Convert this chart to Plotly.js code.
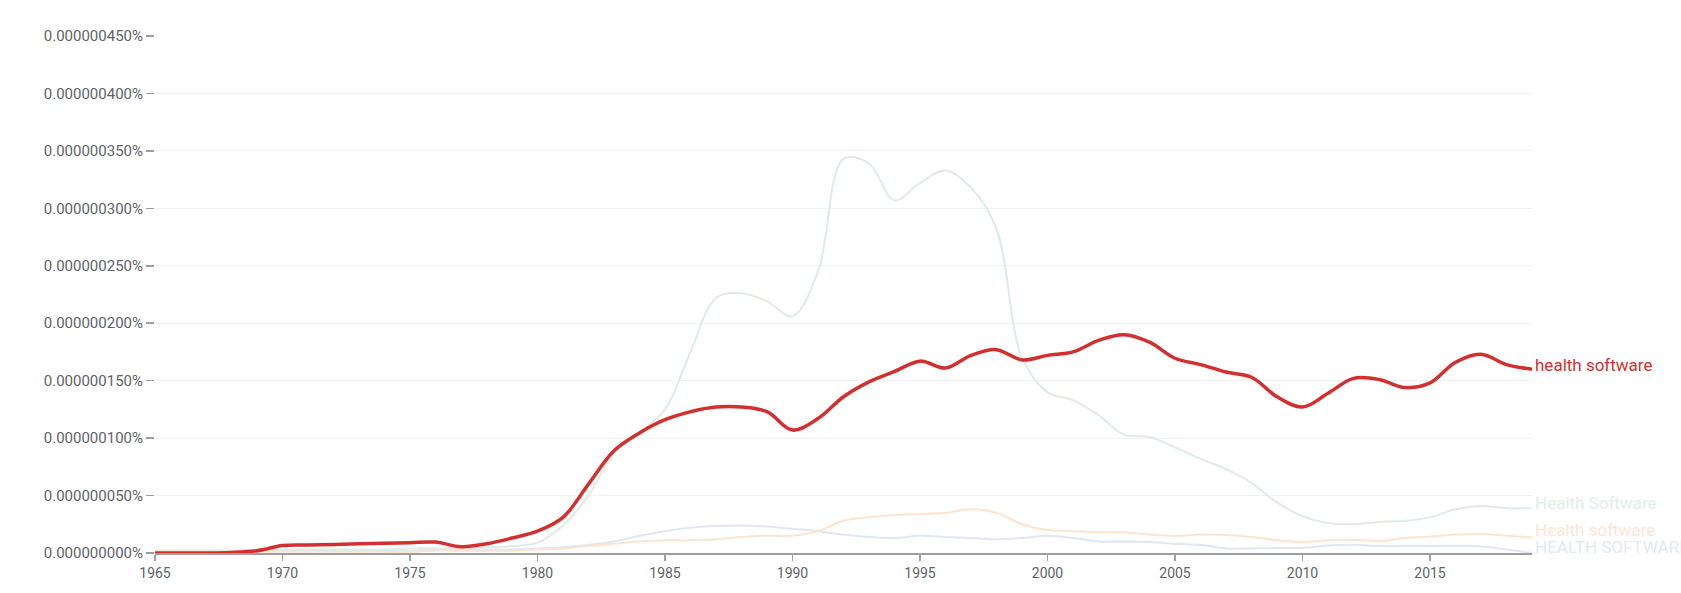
<!DOCTYPE html>
<html>
<head>
<meta charset="utf-8">
<script src="https://cdn.plot.ly/plotly-3.0.1.min.js"></script>
<style>
html,body{margin:0;padding:0;background:#fff;}
#chart{width:1681px;height:593px;}
</style>
</head>
<body>
<div id="chart"></div>
<script>
// Years 1965..2019
const years = [];
for (let y = 1965; y <= 2019; y++) years.push(y);

// values in units of 1e-6 percent (0.45 -> 0.000000450%)
const healthSoftware = [
  0, 0, 0, 0.0005, 0.002, 0.0065, 0.007, 0.0075, 0.008, 0.0085,
  0.009, 0.0095, 0.0055, 0.008, 0.013, 0.019, 0.031, 0.060, 0.089, 0.1045,
  0.116, 0.123, 0.127, 0.127, 0.123, 0.107, 0.117, 0.136, 0.149, 0.158,
  0.167, 0.161, 0.172, 0.177, 0.168, 0.172, 0.175, 0.185, 0.190, 0.1835,
  0.1695, 0.164, 0.1575, 0.153, 0.136, 0.127, 0.139, 0.152, 0.151, 0.144,
  0.148, 0.166, 0.173, 0.164, 0.160
];
const HealthSoftware = [
  0.002, 0.002, 0.002, 0.002, 0.003, 0.003, 0.003, 0.003, 0.003, 0.003,
  0.004, 0.004, 0.004, 0.005, 0.006, 0.009, 0.024, 0.050, 0.087, 0.105,
  0.125, 0.175, 0.222, 0.226, 0.219, 0.206, 0.245, 0.343, 0.339, 0.307,
  0.322, 0.333, 0.318, 0.282, 0.170, 0.140, 0.133, 0.120, 0.103, 0.101,
  0.092, 0.082, 0.073, 0.061, 0.044, 0.032, 0.026, 0.025, 0.027, 0.028,
  0.031, 0.038, 0.041, 0.039, 0.039
];
const HealthSoftwareLower = [
  0.001, 0.001, 0.001, 0.001, 0.001, 0.001, 0.001, 0.001, 0.001, 0.001,
  0.001, 0.002, 0.002, 0.002, 0.002, 0.003, 0.004, 0.006, 0.008, 0.010,
  0.011, 0.011, 0.012, 0.014, 0.015, 0.015, 0.019, 0.028, 0.031, 0.033,
  0.034, 0.035, 0.038, 0.035, 0.025, 0.020, 0.019, 0.018, 0.018, 0.016,
  0.015, 0.016, 0.0157, 0.014, 0.011, 0.0096, 0.011, 0.0116, 0.0104, 0.013,
  0.0144, 0.016, 0.0165, 0.015, 0.0136
];
const HEALTHSOFTWARE = [
  0.002, 0.002, 0.002, 0.002, 0.002, 0.002, 0.002, 0.002, 0.002, 0.002,
  0.002, 0.003, 0.003, 0.003, 0.003, 0.004, 0.005, 0.007, 0.010, 0.015,
  0.019, 0.022, 0.0235, 0.024, 0.023, 0.021, 0.019, 0.016, 0.014, 0.013,
  0.015, 0.014, 0.013, 0.012, 0.013, 0.015, 0.013, 0.010, 0.010, 0.0095,
  0.008, 0.007, 0.004, 0.004, 0.0043, 0.0045, 0.0065, 0.0072, 0.006, 0.006,
  0.006, 0.006, 0.0057, 0.003, 0.0
];

const seriesNames = ["HEALTH SOFTWARE", "Health software", "Health Software", "health software"];
const seriesData = [HEALTHSOFTWARE, HealthSoftwareLower, HealthSoftware, healthSoftware];
const seriesColors = ["#e1e6f5", "#fde4cf", "#e0ebe4", "#d32f2f"];
const seriesWidths = [2, 2, 2, 3.5];
const labelFontColors = ["#e3e8f6", "#fde6d4", "#e3ede6", "#d32f2f"];
const labelShifts = [6, 7, 5, 4];

const yTickVals = [0, 0.05, 0.10, 0.15, 0.20, 0.25, 0.30, 0.35, 0.40, 0.45];
const yTickText = ["0.000000000%", "0.000000050%", "0.000000100%", "0.000000150%", "0.000000200%",
                   "0.000000250%", "0.000000300%", "0.000000350%", "0.000000400%", "0.000000450%"];

const traces = seriesData.map((d, i) => ({
  x: years, y: d, type: "scatter", mode: "lines", name: seriesNames[i],
  line: {color: seriesColors[i], width: seriesWidths[i], shape: "spline", smoothing: 1},
  hoverinfo: "x+y+name"
}));

const annotations = seriesData.map((d, i) => ({
  xref: "paper", x: 1, xanchor: "left", xshift: 1,
  yref: "y", y: d[d.length - 1], yanchor: "middle", yshift: labelShifts[i],
  text: seriesNames[i], showarrow: false,
  font: {family: "Roboto, sans-serif", size: 17, color: labelFontColors[i]}
}));

const layout = {
  width: 1681, height: 593,
  margin: {l: 155, r: 149, t: 35.5, b: 39.7, pad: 0},
  paper_bgcolor: "#ffffff", plot_bgcolor: "#ffffff",
  showlegend: false,
  font: {family: "Roboto, sans-serif", size: 14, color: "#5f6368"},
  xaxis: {
    range: [1965, 2019], dtick: 5, tick0: 1965,
    showgrid: false, zeroline: false,
    showline: true, linecolor: "#9e9e9e", linewidth: 2,
    ticks: "outside", ticklen: 6, tickcolor: "#9e9e9e", tickwidth: 1.5,
    tickfont: {family: "Roboto, sans-serif", size: 14, color: "#5f6368"},
    fixedrange: true
  },
  yaxis: {
    range: [0, 0.45], tickvals: yTickVals, ticktext: yTickText,
    showgrid: true, gridcolor: "#f2f2f2", gridwidth: 1,
    zeroline: false, showline: false,
    ticks: "outside", ticklen: 8, tickcolor: "#9e9e9e", tickwidth: 1.5,
    tickfont: {family: "Roboto, sans-serif", size: 15, color: "#5f6368"},
    fixedrange: true
  },
  annotations: annotations
};

Plotly.newPlot("chart", traces, layout, {displayModeBar: false, staticPlot: true});
</script>
</body>
</html>
